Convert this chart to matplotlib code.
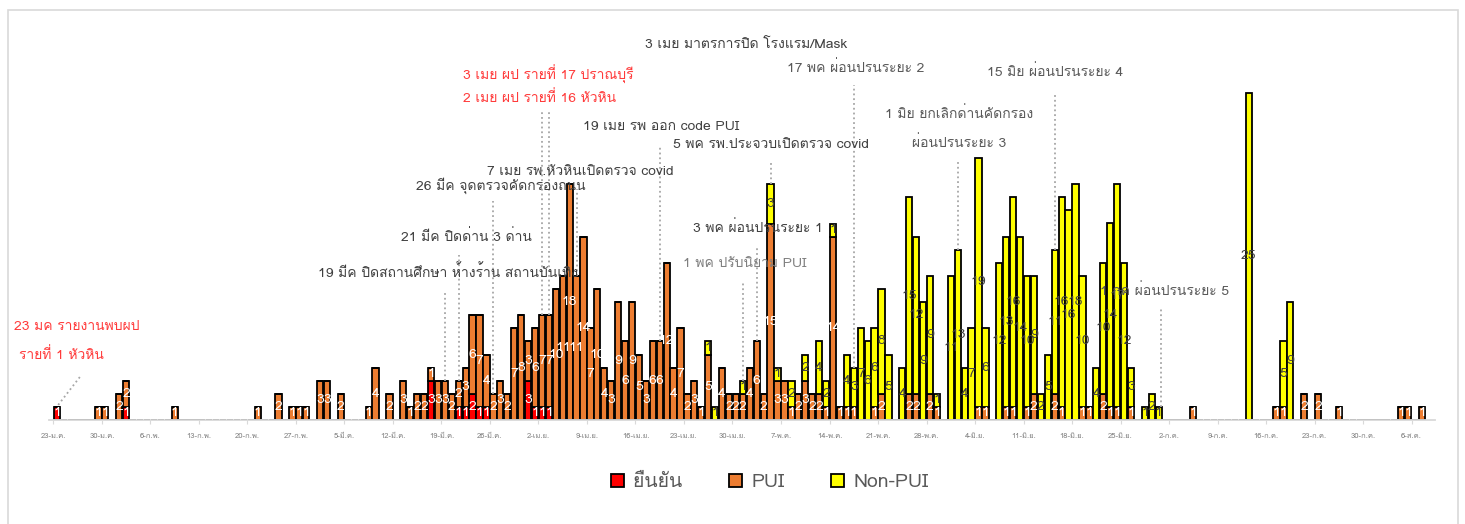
import numpy as np
import pandas as pd
import matplotlib
matplotlib.use('Agg')
import matplotlib.pyplot as plt
from matplotlib import font_manager
from matplotlib.ft2font import FT2Font
from matplotlib.patches import Rectangle


def thai_family():
    # first installed family that really has Thai glyphs
    for f in font_manager.fontManager.ttflist:
        try:
            if 0x0E01 in FT2Font(f.fname).get_charmap():
                return f.name
        except Exception:
            pass
    return 'DejaVu Sans'


FAM = thai_family()
plt.rcParams['font.family'] = [FAM, 'DejaVu Sans']

start, end = '2020-01-23', '2020-08-07'

tick_labels = ['23-ม.ค.', '30-ม.ค.', '6-ก.พ.', '13-ก.พ.', '20-ก.พ.', '27-ก.พ.', '5-มี.ค.',
               '12-มี.ค.', '19-มี.ค.', '26-มี.ค.', '2-เม.ย.', '9-เม.ย.', '16-เม.ย.', '23-เม.ย.',
               '30-เม.ย.', '7-พ.ค.', '14-พ.ค.', '21-พ.ค.', '28-พ.ค.', '4-มิ.ย.', '11-มิ.ย.',
               '18-มิ.ย.', '25-มิ.ย.', '2-ก.ค.', '9-ก.ค.', '16-ก.ค.', '23-ก.ค.', '30-ก.ค.', '6-ส.ค.']

# daily counts, month-day: value (missing days are 0)
confirmed = {'01-23': 1, '02-02': 1, '03-17': 3, '03-21': 1, '03-22': 1, '03-23': 2,
             '03-24': 1, '03-25': 1, '03-31': 3, '04-01': 1, '04-02': 1, '04-03': 1}

pui = {'01-29': 1, '01-30': 1, '02-01': 2, '02-02': 2, '02-09': 1, '02-21': 1, '02-24': 2,
       '02-26': 1, '02-27': 1, '02-28': 1, '03-01': 3, '03-02': 3, '03-04': 2, '03-08': 1,
       '03-09': 4, '03-11': 2, '03-13': 3, '03-14': 1, '03-15': 2, '03-16': 2, '03-17': 1,
       '03-18': 3, '03-19': 3, '03-20': 2, '03-21': 2, '03-22': 3, '03-23': 6, '03-24': 7,
       '03-25': 4, '03-26': 2, '03-27': 3, '03-28': 2, '03-29': 7, '03-30': 8, '03-31': 3,
       '04-01': 6, '04-02': 7, '04-03': 7, '04-04': 10, '04-05': 11, '04-06': 18, '04-07': 11,
       '04-08': 14, '04-09': 7, '04-10': 10, '04-11': 4, '04-12': 3, '04-13': 9, '04-14': 6,
       '04-15': 9, '04-16': 5, '04-17': 3, '04-18': 6, '04-19': 6, '04-20': 12, '04-21': 4,
       '04-22': 7, '04-23': 2, '04-24': 3, '04-25': 1, '04-26': 5, '04-28': 4, '04-29': 2,
       '04-30': 2, '05-01': 2, '05-02': 4, '05-03': 6, '05-04': 2, '05-05': 15, '05-06': 3,
       '05-07': 3, '05-08': 1, '05-09': 2, '05-10': 3, '05-11': 2, '05-12': 2, '05-13': 1,
       '05-14': 14, '05-15': 1, '05-16': 1, '05-17': 1, '05-20': 1, '05-21': 2, '05-25': 2,
       '05-26': 2, '05-28': 2, '05-29': 1, '06-04': 1, '06-05': 1, '06-08': 1, '06-09': 1,
       '06-11': 1, '06-12': 2, '06-15': 2, '06-16': 1, '06-19': 1, '06-20': 1, '06-22': 2,
       '06-23': 1, '06-24': 1, '06-26': 1, '07-05': 1, '07-17': 1, '07-18': 1, '07-21': 2,
       '07-23': 2, '07-26': 1, '08-04': 1, '08-05': 1, '08-07': 1}

nonpui = {'04-26': 1, '04-27': 1, '05-01': 1, '05-05': 3, '05-06': 1, '05-08': 2, '05-10': 2,
          '05-12': 4, '05-13': 2, '05-14': 1, '05-16': 4, '05-17': 3, '05-18': 7, '05-19': 6,
          '05-20': 6, '05-21': 8, '05-22': 5, '05-24': 4, '05-25': 15, '05-26': 12, '05-27': 9,
          '05-28': 9, '05-29': 1, '05-31': 11, '06-01': 13, '06-02': 4, '06-03': 7, '06-04': 19,
          '06-05': 6, '06-07': 12, '06-08': 13, '06-09': 16, '06-10': 14, '06-11': 10,
          '06-12': 9, '06-13': 2, '06-14': 5, '06-15': 11, '06-16': 16, '06-17': 16,
          '06-18': 18, '06-19': 10, '06-21': 4, '06-22': 10, '06-23': 14, '06-24': 17,
          '06-25': 12, '06-26': 3, '06-28': 1, '06-29': 2, '06-30': 1, '07-13': 25,
          '07-18': 5, '07-19': 9}

# event notes: text, text x (day), text y (cases), line day, line top, colour
notes = [
    ('19 มีค ปิดสถานศึกษา ห้างร้าน สถานบันเทิง', 56.4, 11.3, 56, 9.8, '#404040'),
    ('21 มีค ปิดด่าน 3 ด่าน', 59.1, 14.0, 58, 12.6, '#404040'),
    ('26 มีค จุดตรวจคัดกรองถนน', 64.1, 17.9, 63, 16.7, '#404040'),
    ('7 เมย รพ.หัวหินเปิดตรวจ covid', 75.5, 18.9, 75, 17.6, '#404040'),
    ('19 เมย รพ ออก code PUI', 87.2, 22.4, 87, 21.0, '#404040'),
    ('3 เมย ผป รายที่ 17 ปราณบุรี', 70.9, 26.4, 71, 23.5, '#ff3b3b'),
    ('2 เมย ผป รายที่ 16 หัวหิน', 69.7, 24.6, 70, 23.5, '#ff3b3b'),
    ('3 เมย มาตรการปิด โรงแรม/Mask', 99.4, 28.7, None, None, '#404040'),
    ('5 พค รพ.ประจวบเปิดตรวจ covid', 103.1, 21.0, 103, 19.7, '#404040'),
    ('3 พค ผ่อนปรนระยะ 1', 101.1, 14.7, 101, 13.1, '#404040'),
    ('1 พค ปรับนิยาม PUI', 99.2, 11.9, 99, 10.5, '#7f7f7f'),
    ('17 พค ผ่อนปรนระยะ 2', 115.3, 26.9, 115, 25.6, '#595959'),
    ('1 มิย ยกเลิกด่านคัดกรอง', 130.2, 23.4, 130, 19.8, '#595959'),
    ('ผ่อนปรนระยะ 3', 130.2, 21.2, None, None, '#595959'),
    ('15 มิย ผ่อนปรนระยะ 4', 144.1, 26.6, 144, 24.8, '#595959'),
    ('1 กค ผ่อนปรนระยะ 5', 159.9, 9.9, 159.3, 8.5, '#595959'),
    ('23 มค รายงานพบผป', 2.9, 7.1, None, None, '#ff3b3b'),
    ('รายที่ 1 หัวหิน', 0.7, 5.0, None, None, '#ff3b3b'),
]

idx = pd.date_range(start, end)


def daily(d):
    s = pd.Series({pd.Timestamp('2020-' + k): v for k, v in d.items()})
    return s.reindex(idx, fill_value=0).to_numpy()


conf = daily(confirmed)
p = daily(pui)
n = daily(nonpui)
days = np.arange(len(idx))
total = conf + p + n

fig = plt.figure(figsize=(14.65, 5.24), dpi=100)
fig.patches.append(Rectangle((8 / 1465, -0.01), 1450 / 1465, 1 - 10 / 524 + 0.01,
                             transform=fig.transFigure, fill=False,
                             edgecolor='#d9d9d9', linewidth=1.2))
ax = fig.add_axes([48.5 / 1465, 104 / 524, 1386 / 1465, 393 / 524])

w = 0.9
ax.bar(days, conf, w, color='#ff0000', edgecolor='black', linewidth=1.3)
ax.bar(days, p, w, bottom=conf, color='#ed7d31', edgecolor='black', linewidth=1.3)
ax.bar(days, n, w, bottom=conf + p, color='#ffff00', edgecolor='black', linewidth=1.3)

for d in days:
    base = 0
    for v, col in ((conf[d], 'white'), (p[d], 'white'), (n[d], '#404040')):
        if v > 0:
            ax.text(d, base + v / 2, str(v), ha='center', va='center',
                    fontsize=10, color=col)
        base += v

for txt, tx, ty, ld, ltop, col in notes:
    ax.text(tx, ty, txt, ha='center', va='center', fontsize=10, color=col)
    if ld is not None:
        top = total[int(round(ld))]
        ax.plot([ld, ld], [top, ltop], ls=':', color='#a6a6a6', lw=1.3)

# leader for the first case
ax.plot([0.2, 3.35], [1.15, 3.3], ls=':', color='#a6a6a6', lw=1.3)

ax.set_xlim(-1.2, 198.8)
ax.set_ylim(0, 30)
ax.set_xticks(np.arange(len(tick_labels)) * 7 - 0.5)
ax.set_xticklabels(tick_labels, fontsize=5.5, color='#808080')
ax.tick_params(axis='x', length=3, color='#d9d9d9', pad=6)
ax.set_yticks([])
for s in ('top', 'left', 'right'):
    ax.spines[s].set_visible(False)
ax.spines['bottom'].set_color('#d9d9d9')
ax.spines['bottom'].set_linewidth(1.3)

handles = [Rectangle((0, 0), 1, 1, facecolor=c, edgecolor='black', linewidth=1.3)
           for c in ('#ff0000', '#ed7d31', '#ffff00')]
fig.legend(handles, ['ยืนยัน', 'PUI', 'Non-PUI'], loc='center', ncol=3,
           bbox_to_anchor=(770 / 1465, 1 - 482 / 524), frameon=False, fontsize=14,
           labelcolor='#595959', columnspacing=2.4, handlelength=0.65, handleheight=0.65,
           handletextpad=0.5)

fig.savefig('out.png', dpi=100)
